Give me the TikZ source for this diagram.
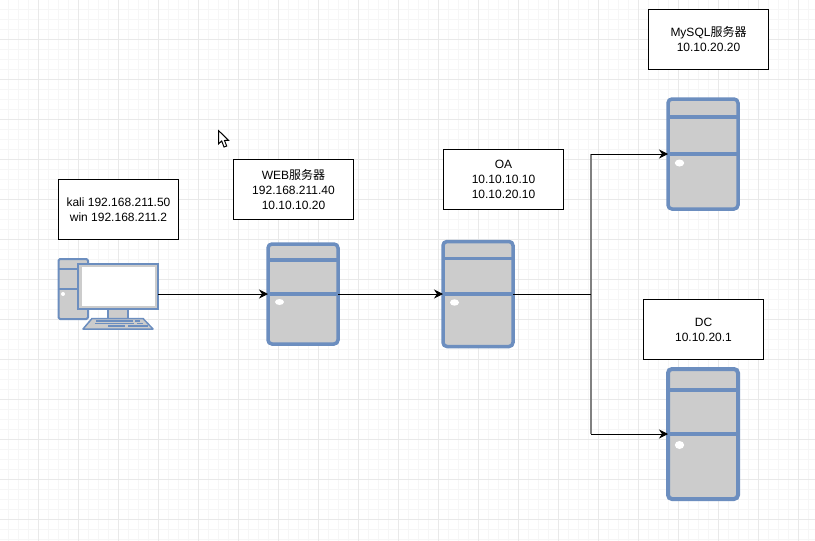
\documentclass[tikz,border=0pt]{standalone}
\usepackage{fontspec}
\setmainfont{Liberation Sans}
\newfontfamily\cjk{Noto Sans CJK SC}
\usetikzlibrary{arrows.meta}
\definecolor{srvblue}{HTML}{6C8EBF}
\definecolor{srvgray}{HTML}{CCCCCC}
\definecolor{gridminor}{HTML}{F6F6F6}
\definecolor{gridmajor}{HTML}{E9E9E9}
\tikzset{
  infobox/.style={draw=black,fill=white,line width=1pt,minimum width=120pt,minimum height=60pt,inner sep=0pt,outer sep=0pt,align=center,font=\fontsize{12}{15}\selectfont},
  srvbox/.style={draw=srvblue,fill=srvgray,line width=3.5pt,rounded corners=4pt,inner sep=0pt,outer sep=0pt,minimum width=70pt},
  srvline/.style={draw=srvblue,line width=3.5pt},
  srvdot/.style={fill=white,draw=none},
  pcpart/.style={draw=srvblue,fill=srvgray,line width=2pt,line join=round},
  link/.style={draw=black,line width=1pt},
  tiplink/.style={link,-{Stealth[length=9pt,width=9pt]}},
  busline/.style={draw=black!50,line width=2pt}
}
\begin{document}
\begin{tikzpicture}[x=1pt,y=-1pt]
\useasboundingbox (0,0) rectangle (815,541);
\fill[white] (0,0) rectangle (815,541);
% grid
\foreach \i in {0,...,81} {\draw[gridminor,line width=1pt] ({8.5+10*\i},0) -- ({8.5+10*\i},541);}
\foreach \i in {0,...,53} {\draw[gridminor,line width=1pt] (0,{9.5+10*\i}) -- (815,{9.5+10*\i});}
\foreach \i in {0,...,19} {\draw[gridmajor,line width=1pt] ({38.5+40*\i},0) -- ({38.5+40*\i},541);}
\foreach \i in {0,...,12} {\draw[gridmajor,line width=1pt] (0,{39.5+40*\i}) -- (815,{39.5+40*\i});}
% label boxes
\node[infobox] (kalibox) at (118.5,209.5) {kali 192.168.211.50\\win 192.168.211.2};
\node[infobox] (webbox) at (293.5,189.5) {WEB{\cjk 服务器}\\192.168.211.40\\10.10.10.20};
\node[infobox] (oabox) at (503.5,179.5) {OA\\10.10.10.10\\10.10.20.10};
\node[infobox] (mysqlbox) at (708.5,39.5) {MySQL{\cjk 服务器}\\10.10.20.20};
\node[infobox] (dcbox) at (703.5,329.5) {DC\\10.10.20.1};
% servers
\node[srvbox,minimum height=100pt] (web) at (303,294) {};
\draw[srvline] (web.west |- 0,260) -- (web.east |- 0,260);
\draw[srvline] (web.west) -- (web.east);
\fill[srvdot] (279.5,302) ellipse [x radius=4.5,y radius=3];
\node[srvbox,minimum height=105pt] (oa) at (478,294) {};
\draw[srvline] (oa.west |- 0,258.5) -- (oa.east |- 0,258.5);
\draw[srvline] (oa.west) -- (oa.east);
\fill[srvdot] (454.5,302.5) ellipse [x radius=4.5,y radius=3.2];
\node[srvbox,minimum height=110pt] (mysql) at (703,154) {};
\draw[srvline] (mysql.west |- 0,117) -- (mysql.east |- 0,117);
\draw[srvline] (mysql.west) -- (mysql.east);
\fill[srvdot] (679.5,163) ellipse [x radius=4.7,y radius=3.5];
\node[srvbox,line width=4pt,minimum height=130pt] (dc) at (703,434) {};
\draw[srvline,line width=4pt] (dc.west |- 0,390) -- (dc.east |- 0,390);
\draw[srvline,line width=4pt] (dc.west) -- (dc.east);
\fill[srvdot] (679.5,445) ellipse [x radius=4.7,y radius=4];
% computer
\draw[pcpart,rounded corners=1.5pt] (58.5,259) rectangle (88,319);
\draw[srvline,line width=2pt] (58.5,269) -- (88,269);
\draw[srvline,line width=2pt] (58.5,288.5) -- (88,288.5);
\fill[srvdot] (63,294) circle (2);
\draw[pcpart] (108,309) rectangle (128,319);
\draw[pcpart,line width=1.5pt] (92,318.5) -- (143,318.5) -- (153,329) -- (83,329) -- cycle;
\foreach \ya/\xa/\xb in {321/96/133,323.5/95/134,326/108/125} {\draw[srvline,line width=1.5pt] (\xa,\ya) -- (\xb,\ya);}
\foreach \ya/\xa/\xb in {321/135/140,323.5/137/143,326/128/148} {\draw[srvline,line width=1.5pt] (\xa,\ya) -- (\xb,\ya);}
\node[draw=srvblue,fill=srvgray,line width=2pt,minimum width=80pt,minimum height=45pt,inner sep=0pt,outer sep=0pt] (monitor) at (118,286.5) {};
\fill[white] (81.5,267) rectangle (154.5,305.5);
% connectors
\coordinate (bus) at (591,294);
\draw[busline] (bus |- mysql.west) -- (bus |- dc.west);
\draw[tiplink] (monitor.east |- web.west) -- (web.west);
\draw[tiplink] (web.east) -- (oa.west);
\draw[link] (oa.east) -- (bus);
\draw[tiplink] (bus |- mysql.west) -- (mysql.west);
\draw[tiplink] (bus |- dc.west) -- (dc.west);
% mouse pointer
\draw[black,fill=white,line width=1pt,line join=miter] (218.7,130.7) -- (218.7,143.7) -- (221.7,141) -- (224,147) -- (226.7,146) -- (224.5,140.5) -- (228.5,140.3) -- cycle;
\end{tikzpicture}
\end{document}
